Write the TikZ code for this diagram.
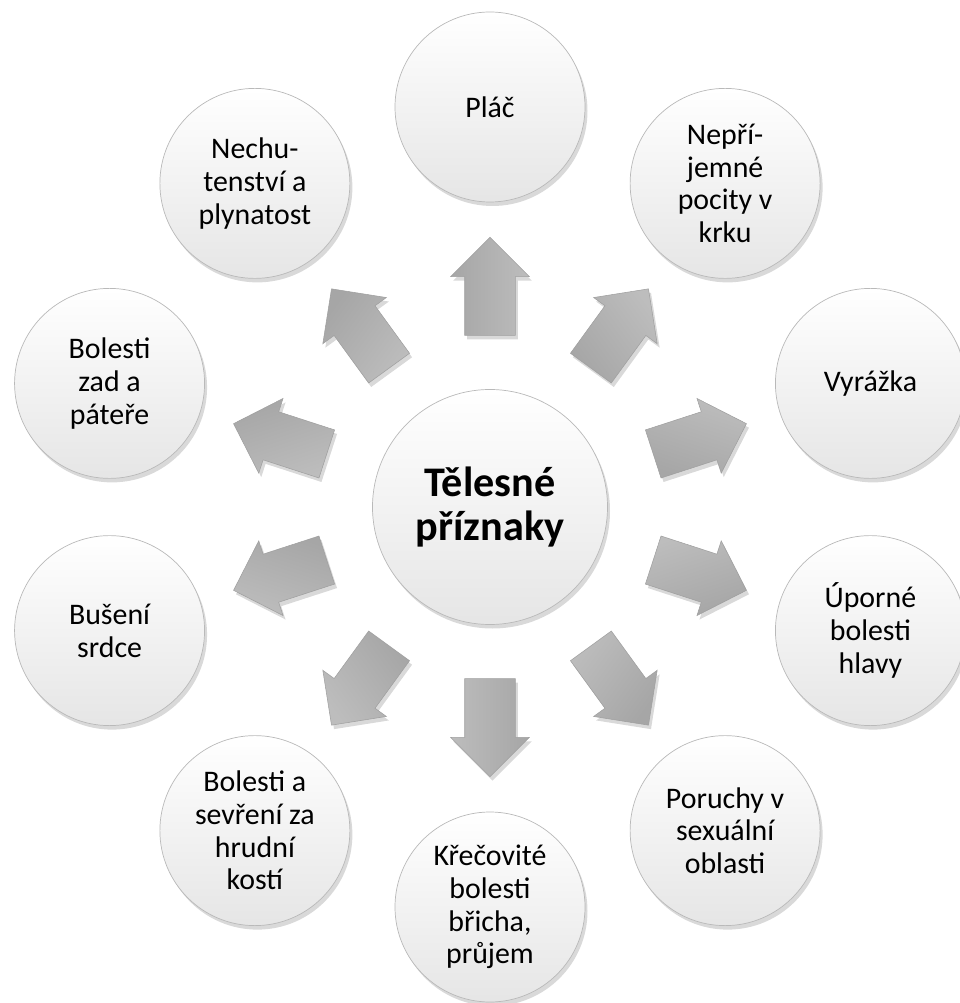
\documentclass[tikz,border=0pt]{standalone}
\usepackage{fontspec}
\setmainfont{Carlito}
\usetikzlibrary{shapes.arrows, shadows, calc}

\begin{document}
\begin{tikzpicture}[x=0.2mm, y=0.2mm,
    ball/.style={circle, draw=gray!55, line width=0.4pt, inner sep=0pt,
        minimum size=38mm, align=center, top color=white, bottom color=gray!20,
        font=\fontsize{17}{18.6}\selectfont,
        drop shadow={shadow xshift=0.5mm, shadow yshift=-0.8mm, opacity=0.3}},
    hub/.style={ball, minimum size=47mm, font=\fontsize{24}{24.5}\selectfont\bfseries},
    blk/.style={single arrow, draw=gray!75, line width=0.3pt,
        inner xsep=0pt, inner ysep=5mm, minimum width=0pt,
        minimum height=19.6mm, single arrow head extend=2.8mm,
        top color=gray!52, bottom color=gray!70,
        drop shadow={shadow xshift=0.5mm, shadow yshift=-0.8mm, opacity=0.3}}]
    \useasboundingbox (-490,-496) rectangle (470,507);

    %the middle
    \node[hub] (t) at (0,0) {Tělesné\\příznaky};

    %the symptoms round it
    \node[ball] (s1) at (90:400) {Pláč};
    \node[ball] (s2) at (54:400) {Nepří-\\jemné\\pocity v\\krku};
    \node[ball] (s3) at (18:400) {Vyrážka};
    \node[ball] (s4) at (-18:400) {Úporné\\bolesti\\hlavy};
    \node[ball] (s5) at (-54:400) {Poruchy v\\sexuální\\oblasti};
    \node[ball] (s6) at (-90:400) {Křečovité\\bolesti\\břicha,\\průjem};
    \node[ball] (s7) at (-126:400) {Bolesti a\\sevření za\\hrudní\\kostí};
    \node[ball] (s8) at (-162:400) {Bušení\\srdce};
    \node[ball] (s9) at (162:400) {Bolesti\\zad a\\páteře};
    \node[ball] (s10) at (126:400) {Nechu-\\tenství a\\plynatost};

    %the arrows
    \foreach \n/\a in {1/90, 2/54, 3/18, 4/-18, 5/-54, 6/-90, 7/-126, 8/-162, 9/162, 10/126}
        \node[blk, rotate=\a, shading angle=-\a] at ($(t)!0.52!(s\n)$) {};
\end{tikzpicture}
\end{document}
